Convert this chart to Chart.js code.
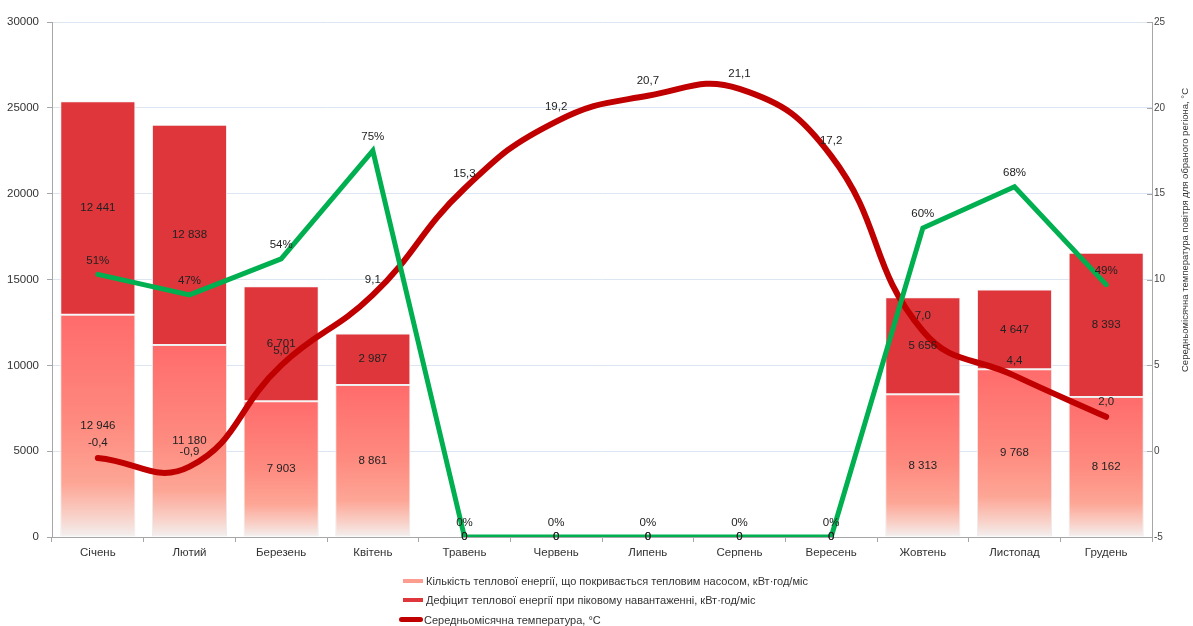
<!DOCTYPE html>
<html>
<head>
<meta charset="utf-8">
<script src="https://cdn.jsdelivr.net/npm/chart.js@4.4.1/dist/chart.umd.min.js"></script>
<style>
html,body{margin:0;padding:0;background:#fff;}
#wrap{position:relative;width:1193px;height:626px;overflow:hidden;}
#legend{position:absolute;left:399px;top:571px;font:11px "Liberation Sans",Arial,sans-serif;color:#333;}
.li{height:19.5px;display:flex;align-items:center;white-space:nowrap;}
.mk{display:inline-block;margin-right:3px;}
</style>
</head>
<body>
<div id="wrap">
<canvas id="c" width="1193" height="626"></canvas>
<div id="legend"></div>
</div>
<script>
// ---- data ----
const categories = ['Січень','Лютий','Березень','Квітень','Травень','Червень','Липень','Серпень','Вересень','Жовтень','Листопад','Грудень'];
const heatPumpEnergy = [12946, 11180, 7903, 8861, 0, 0, 0, 0, 0, 8313, 9768, 8162];
const heatDeficit = [12441, 12838, 6701, 2987, 0, 0, 0, 0, 0, 5656, 4647, 8393];
const avgTemperature = [-0.4, -0.9, 5.0, 9.1, 15.3, 19.2, 20.7, 21.1, 17.2, 7.0, 4.4, 2.0];
const coverageShare = [51, 47, 54, 75, 0, 0, 0, 0, 0, 60, 68, 49];
const energyTicks = [0, 5000, 10000, 15000, 20000, 25000, 30000];
const temperatureTicks = [-5, 0, 5, 10, 15, 20, 25];
const seriesNames = [
  'Кількість теплової енергії, що покривається тепловим насосом, кВт·год/міс',
  'Дефіцит теплової енергії при піковому навантаженні, кВт·год/міс',
  'Середньомісячна температура, °C'
];
const rightAxisTitle = 'Середньомісячна температура повітря для обраного регіона, °C';

// ---- styles ----
const FONT = '"Liberation Sans", Arial, sans-serif';
const C_DEFICIT = '#de363b';
const C_TEMP = '#c00000';
const C_SHARE = '#00b050';
const C_GRID = '#dce6f2';
const C_AXIS = '#a6a6a6';

function fmtInt(v){ return String(Math.round(v)).replace(/\B(?=(\d{3})+(?!\d))/g, ' '); }
function fmtDec(v){ return v.toFixed(1).replace('.', ','); }

function hpGradient(ctx){
  const chart = ctx.chart;
  const ys = chart.scales.y;
  if (!ys || ctx.type !== 'data') return '#ff7a72';
  const v = ctx.raw || 0;
  const top = ys.getPixelForValue(v);
  const bottom = ys.getPixelForValue(0);
  if (!isFinite(top) || bottom - top < 1) return '#ff7a72';
  const g = chart.ctx.createLinearGradient(0, top, 0, bottom);
  g.addColorStop(0, '#ff6b6b');
  g.addColorStop(0.5, '#fe8b80');
  g.addColorStop(0.76, '#fda696');
  g.addColorStop(0.9, '#f9cfc6');
  g.addColorStop(1, '#f3f0f0');
  return g;
}

const labelPlugin = {
  id: 'valueLabels',
  afterDatasetsDraw(chart){
    const ctx = chart.ctx;
    ctx.save();
    ctx.font = '11.5px ' + FONT;
    ctx.fillStyle = '#222';
    ctx.textAlign = 'center';
    ctx.textBaseline = 'middle';
    chart.data.datasets.forEach((ds, di) => {
      const meta = chart.getDatasetMeta(di);
      meta.data.forEach((el, i) => {
        const v = ds.data[i];
        if (ds.type === 'bar') {
          const p = el.getProps(['x','y','base'], true);
          ctx.fillText(fmtInt(v), p.x, (p.y + p.base) / 2);
        } else if (ds.yAxisID === 'yT') {
          ctx.fillText(fmtDec(v), el.x, el.y - 15);
        } else {
          ctx.fillText(v + '%', el.x, el.y - 14);
        }
      });
    });
    ctx.restore();
  }
};

const axisExtras = {
  id: 'axisExtras',
  afterDraw(chart){
    const ctx = chart.ctx;
    const a = chart.chartArea;
    const yT = chart.scales.yT;
    ctx.save();
    ctx.strokeStyle = C_AXIS;
    ctx.lineWidth = 1;
    temperatureTicks.forEach(t => {
      const y = Math.round(yT.getPixelForValue(t)) + 0.5;
      ctx.beginPath(); ctx.moveTo(a.right - 5, y); ctx.lineTo(a.right, y); ctx.stroke();
    });
    ctx.translate(1185, 230);
    ctx.rotate(-Math.PI / 2);
    ctx.font = '9.5px ' + FONT;
    ctx.fillStyle = '#333';
    ctx.textAlign = 'center';
    ctx.textBaseline = 'middle';
    ctx.fillText(rightAxisTitle, 0, 0);
    ctx.restore();
  }
};

Chart.defaults.font.family = FONT;
Chart.defaults.font.size = 11;
Chart.defaults.color = '#333';

new Chart(document.getElementById('c'), {
  data: {
    labels: categories,
    datasets: [
      { type: 'bar', label: seriesNames[0], data: heatPumpEnergy, yAxisID: 'y', stack: 'e',
        backgroundColor: hpGradient, borderColor: '#ececec', borderWidth: 1, borderSkipped: false,
        barPercentage: 0.82, categoryPercentage: 1, order: 3 },
      { type: 'bar', label: seriesNames[1], data: heatDeficit, yAxisID: 'y', stack: 'e',
        backgroundColor: C_DEFICIT, borderColor: '#f4f4f4', borderWidth: 1, borderSkipped: false,
        barPercentage: 0.82, categoryPercentage: 1, order: 3 },
      { type: 'line', label: seriesNames[2], data: avgTemperature, yAxisID: 'yT',
        borderColor: C_TEMP, borderWidth: 6, tension: 0.45, pointRadius: 0,
        borderCapStyle: 'round', borderJoinStyle: 'round', fill: false, order: 1 },
      { type: 'line', label: 'Частка', data: coverageShare, yAxisID: 'yP',
        borderColor: C_SHARE, borderWidth: 5, tension: 0, pointRadius: 0,
        borderCapStyle: 'round', borderJoinStyle: 'miter', fill: false, order: 0 }
    ]
  },
  options: {
    responsive: false,
    animation: false,
    devicePixelRatio: 1,
    layout: { padding: { top: 22, left: 0, right: 0, bottom: 59 } },
    plugins: { legend: { display: false }, tooltip: { enabled: false } },
    scales: {
      x: {
        stacked: true,
        offset: true,
        grid: { offset: true, drawOnChartArea: false, drawTicks: true, tickLength: 5, color: C_AXIS },
        border: { display: true, color: C_AXIS },
        ticks: { padding: 4, color: '#333', font: { size: 11.5 }, maxRotation: 0, autoSkip: false },
        afterFit(s){ s.height = 30; }
      },
      y: {
        position: 'left',
        stacked: true,
        min: energyTicks[0], max: energyTicks[energyTicks.length - 1],
        afterBuildTicks(s){ s.ticks = energyTicks.map(v => ({ value: v })); },
        grid: { color: C_GRID, drawTicks: true, tickLength: 5, tickColor: C_AXIS },
        border: { display: true, color: C_AXIS },
        ticks: { padding: 8, color: '#333', font: { size: 11.5 }, callback: v => String(v) },
        afterFit(s){ s.width = 52; }
      },
      yT: {
        position: 'right',
        min: temperatureTicks[0], max: temperatureTicks[temperatureTicks.length - 1],
        afterBuildTicks(s){ s.ticks = temperatureTicks.map(v => ({ value: v })); },
        grid: { drawOnChartArea: false, drawTicks: false },
        border: { display: true, color: C_AXIS },
        ticks: { padding: 2, color: '#444', font: { size: 10 }, callback: v => String(v) },
        afterFit(s){ s.width = 41; }
      },
      yP: { display: false, min: 0, max: 100 }
    }
  },
  plugins: [labelPlugin, axisExtras]
});

// ---- HTML legend ----
const legendEl = document.getElementById('legend');
const markers = [
  '<span class="mk" style="width:20px;height:4px;background:#fd9d8f;margin-left:4px"></span>',
  '<span class="mk" style="width:20px;height:4px;background:' + C_DEFICIT + ';margin-left:4px"></span>',
  '<span class="mk" style="width:24px;height:5px;background:' + C_TEMP + ';border-radius:3px;margin-right:1px"></span>'
];
seriesNames.forEach((n, i) => {
  const row = document.createElement('div');
  row.className = 'li';
  row.innerHTML = markers[i] + '<span>' + n + '</span>';
  legendEl.appendChild(row);
});
</script>
</body>
</html>
